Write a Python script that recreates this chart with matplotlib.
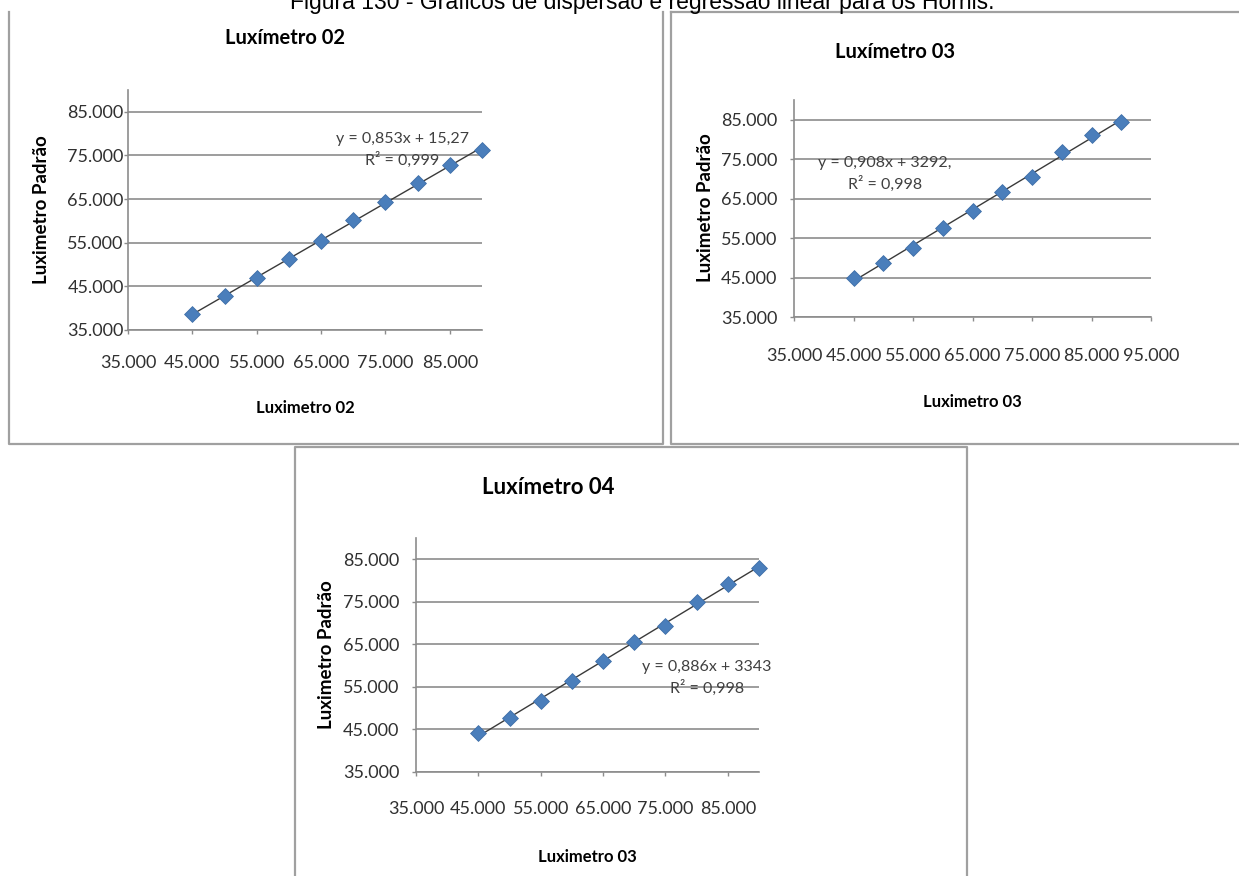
import matplotlib
matplotlib.use("Agg")
import matplotlib.pyplot as plt
from matplotlib.ticker import FuncFormatter
from matplotlib.lines import Line2D
import numpy as np

W, H = 1239, 876

# data
x_lux = [45000, 50000, 55000, 60000, 65000, 70000, 75000, 80000, 85000, 90000]
y_lux02 = [38600, 42700, 47000, 51200, 55500, 60200, 64400, 68700, 72700, 76300]
y_lux03 = [44900, 48700, 52400, 57600, 61900, 66800, 70600, 76700, 81200, 84400]
y_lux04 = [44100, 47800, 51600, 56400, 61200, 65600, 69400, 75000, 79300, 83000]

titles = ["Luxímetro 02", "Luxímetro 03", "Luxímetro 04"]
xlabels = ["Luximetro 02", "Luximetro 03", "Luximetro 03"]
ylabel = "Luximetro Padrão"
equations = ["y = 0,853x + 15,27\nR² = 0,999",
             "y = 0,908x + 3292,\nR² = 0,998",
             "y = 0,886x + 3343\nR² = 0,998"]
caption = "Figura 130 - Gráficos de dispersão e regressão linear para os Hornis."

plt.rcParams['font.family'] = ['Lato', 'DejaVu Sans']

fig = plt.figure(figsize=(W / 100, H / 100), dpi=100)


def px(x, y):
    return x / W, 1 - y / H


def frame_line(xs, ys):
    fx = [x / W for x in xs]
    fy = [1 - y / H for y in ys]
    fig.add_artist(Line2D(fx, fy, color='#a0a0a0', lw=1.6, transform=fig.transFigure))


# panel borders
frame_line([9, 9, 663, 663], [12, 444, 444, 12])
frame_line([671, 671, 1245], [12, 444, 444])
frame_line([671, 1245], [12, 12])
frame_line([295, 295, 967, 967], [880, 447, 447, 880])

# caption is cut by the top edge, as in the source page
fig.text(642 / W, 1 - 9 / H, caption, ha='center', va='baseline',
         fontsize=16.5, family=['Liberation Sans', 'DejaVu Sans'], color='black')

thousands = FuncFormatter(lambda v, p: f"{v:,.0f}".replace(',', '.'))

# axes boxes in pixels: left x, right x, top y, bottom y
panels = [
    dict(box=(128, 482, 90, 330), xmax=90000, y=y_lux02, ypad=0, xpad=15,
         title=(285, 38), xl=(305, 408), yl=(42, 210), eq=(402, 150)),
    dict(box=(794, 1151, 100, 317), xmax=95000, y=y_lux03, ypad=9, xpad=19,
         title=(895, 52), xl=(972, 402), yl=(705, 208), eq=(885, 174)),
    dict(box=(416, 759, 538, 772), xmax=90000, y=y_lux04, ypad=9, xpad=18,
         title=(548, 488), xl=(587, 857), yl=(327, 655), eq=(707, 678)),
]

for i, p in enumerate(panels):
    l, r, t, b = p['box']
    ax = fig.add_axes([l / W, 1 - b / H, (r - l) / W, (b - t) / H])
    yv = p['y']
    ax.scatter(x_lux, yv, marker='D', s=65, color='#4a7ebb',
               edgecolor='#3f6fa9', linewidth=0.6, zorder=3, clip_on=False)
    k, c = np.polyfit(x_lux, yv, 1)
    xx = np.array([min(x_lux), max(x_lux)])
    ax.plot(xx, k * xx + c, color='#3a3a3a', lw=1.0, zorder=2)

    ax.set_xlim(35000, p['xmax'])
    ax.set_ylim(35000, 90000)
    ax.set_xticks(np.arange(35000, p['xmax'] + 1, 10000))
    ax.set_yticks(np.arange(35000, 85001, 10000))
    ax.xaxis.set_major_formatter(thousands)
    ax.yaxis.set_major_formatter(thousands)
    ax.grid(axis='y', color='#8c8c8c', lw=1.2)
    ax.set_axisbelow(True)
    for s in ['top', 'right']:
        ax.spines[s].set_visible(False)
    for s in ['left', 'bottom']:
        ax.spines[s].set_color('#8c8c8c')
        ax.spines[s].set_linewidth(1.2)
    ax.tick_params(axis='both', colors='#8c8c8c', length=3, width=1.0,
                   labelcolor='#303030', labelsize=13)
    ax.tick_params(axis='y', pad=p['ypad'])
    ax.tick_params(axis='x', pad=p['xpad'])

    ax.set_xlabel(xlabels[i], fontsize=12, fontweight='bold', va='center')
    ax.xaxis.set_label_coords(*px(*p['xl']), transform=fig.transFigure)
    ax.set_ylabel(ylabel, fontsize=13.5, fontweight='bold', va='center')
    ax.yaxis.set_label_coords(*px(*p['yl']), transform=fig.transFigure)

    tsize = 14.5 if i < 2 else 16
    fig.text(*px(*p['title']), titles[i], ha='center', va='center',
             fontsize=tsize, fontweight='bold')
    fig.text(*px(*p['eq']), equations[i], ha='center', va='center',
             fontsize=11.5, color='#404040', linespacing=1.5)

fig.savefig("out.png", dpi=100)
